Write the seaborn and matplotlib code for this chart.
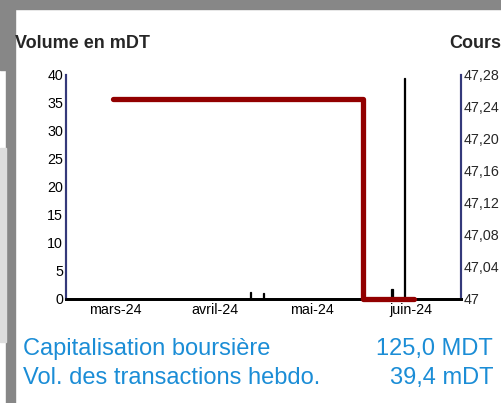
import matplotlib.pyplot as plt
import matplotlib.ticker as mticker
import matplotlib.patches as mpatches
import matplotlib.dates as mdates
import pandas as pd
import seaborn as sns

# Données
cours_dates = ['2024-02-29', '2024-05-17', '2024-06-02']
cours_valeurs = [47.25, 47.00, 47.00]

volume_dates = ['2024-04-12', '2024-04-16', '2024-05-26', '2024-05-30']
volume_valeurs = [1.3, 1.0, 1.8, 39.4]

mois_ticks = ['2024-03-01', '2024-04-01', '2024-05-01', '2024-06-01']
mois_labels = ['mars-24', 'avril-24', 'mai-24', 'juin-24']

volume_ticks = [0, 5, 10, 15, 20, 25, 30, 35, 40]
cours_ticks = [47.00, 47.04, 47.08, 47.12, 47.16, 47.20, 47.24, 47.28]

infos_labels = ['Capitalisation boursière', 'Vol. des transactions hebdo.']
infos_valeurs = ['125,0 MDT', '39,4 mDT']

df_cours = pd.DataFrame({'date': pd.to_datetime(cours_dates), 'cours': cours_valeurs})
df_vol = pd.DataFrame({'date': pd.to_datetime(volume_dates), 'volume': volume_valeurs})

sns.set_style('white')
plt.rcParams['font.family'] = ['Liberation Sans', 'DejaVu Sans']

fig = plt.figure(figsize=(5.01, 4.03), dpi=100)

# cadre gris de la capture
fig.patches.append(mpatches.Rectangle((0, 1 - 9 / 403), 1, 9 / 403, transform=fig.transFigure,
                                      color='#878787', zorder=0))
fig.patches.append(mpatches.Rectangle((6 / 501, 0), 9 / 501, 1, transform=fig.transFigure,
                                      color='#878787', zorder=0))
fig.patches.append(mpatches.Rectangle((0, 1 - 70 / 403), 6 / 501, 70 / 403, transform=fig.transFigure,
                                      color='#878787', zorder=0))
fig.patches.append(mpatches.Rectangle((0, 1 - 342 / 403), 6 / 501, 194 / 403, transform=fig.transFigure,
                                      color='#dddddd', zorder=0))

ax = fig.add_axes([66 / 501, 1 - 299 / 403, 395 / 501, 224 / 403])
ax.patch.set_alpha(0)

# volumes (barres noires, axe gauche)
ax.bar(df_vol['date'], df_vol['volume'], width=0.5, color='black',
       edgecolor='black', linewidth=0.9)
ax.set_ylim(0, 40)
ax.set_xlim(pd.Timestamp('2024-02-14 12:00'), pd.Timestamp('2024-06-16 14:00'))
ax.yaxis.set_major_locator(mticker.FixedLocator(volume_ticks))
ax.xaxis.set_major_locator(mticker.FixedLocator([mdates.date2num(pd.Timestamp(d)) for d in mois_ticks]))
ax.xaxis.set_major_formatter(mticker.FixedFormatter(mois_labels))
ax.tick_params(axis='both', length=0, labelsize=10.3, colors='black')
ax.tick_params(axis='y', pad=2)
ax.tick_params(axis='x', pad=3)
ax.set_xlabel('')
ax.set_ylabel('')

# cours (ligne rouge, axe droit)
ax2 = ax.twinx()
sns.lineplot(data=df_cours, x='date', y='cours', ax=ax2, color='#920000',
             linewidth=3.8, drawstyle='steps-post', clip_on=False, zorder=5)
ax2.set_ylim(47.00, 47.28)
ax2.yaxis.set_major_locator(mticker.FixedLocator(cours_ticks))
ax2.yaxis.set_major_formatter(mticker.FuncFormatter(
    lambda v, p: '47' if abs(v - 47) < 1e-9 else f'{v:.2f}'.replace('.', ',')))
ax2.tick_params(axis='y', length=0, labelsize=10.3, pad=2)
ax2.set_xlabel('')
ax2.set_ylabel('')

for a in (ax, ax2):
    a.spines['top'].set_visible(False)
    a.spines['left'].set_color('#34397a')
    a.spines['left'].set_linewidth(1.5)
    a.spines['right'].set_color('#34397a')
    a.spines['right'].set_linewidth(1.5)
    a.spines['bottom'].set_color('black')
    a.spines['bottom'].set_linewidth(2)

fig.text(15 / 501, 1 - 43 / 403, 'Volume en mDT', fontsize=13, fontweight='bold',
         ha='left', va='center')
fig.text(501 / 501, 1 - 43 / 403, 'Cours', fontsize=13, fontweight='bold',
         ha='right', va='center')

bleu = '#1b8dd6'
for i, (lab, val) in enumerate(zip(infos_labels, infos_valeurs)):
    y = 1 - (349 + 29 * i) / 403
    fig.text(23 / 501, y, lab, fontsize=17, color=bleu, ha='left', va='center')
    fig.text(493 / 501, y, val, fontsize=17, color=bleu, ha='right', va='center')

fig.savefig('out.png', dpi=100)
